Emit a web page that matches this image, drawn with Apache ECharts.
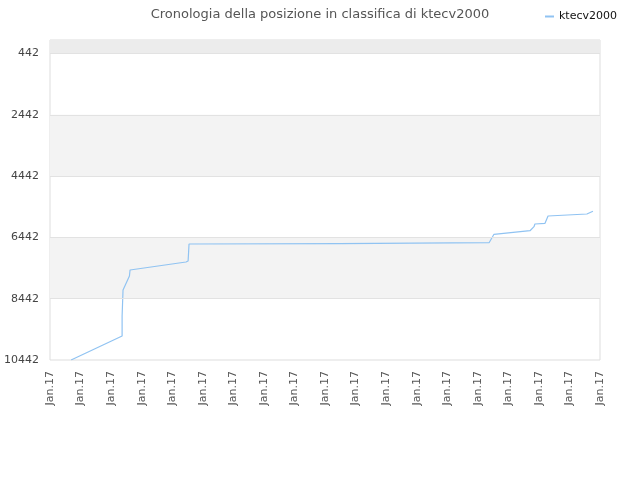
<!DOCTYPE html>
<html>
<head>
<meta charset="UTF-8">
<title>Cronologia della posizione in classifica</title>
<script src="https://cdn.jsdelivr.net/npm/echarts@6/dist/echarts.min.js"></script>
<style>
  html, body { margin: 0; padding: 0; background: #fff; }
  #chart { width: 640px; height: 480px; }
</style>
</head>
<body>
<div id="chart"></div>
<script>
// etichette dell'asse x (tutte nello stesso mese)
var xTickLabels = ['Jan.17','Jan.17','Jan.17','Jan.17','Jan.17','Jan.17','Jan.17','Jan.17','Jan.17','Jan.17',
                   'Jan.17','Jan.17','Jan.17','Jan.17','Jan.17','Jan.17','Jan.17','Jan.17','Jan.17'];
// etichette dell'asse y (posizione)
var yTickValues = [442, 2442, 4442, 6442, 8442, 10442];

// posizione sull'asse x (in unita di etichetta) e posizione in classifica
var timePos = [0.69, 2.36, 2.36, 2.39, 2.39, 2.60, 2.62, 4.45, 4.52, 4.55, 9.46, 9.46,
               14.37, 14.53, 15.71, 15.84, 15.87, 16.20, 16.30, 17.57, 17.77];
var rank    = [10442, 9659, 9006, 8941, 8158, 7701, 7505, 7244, 7212, 6657, 6647, 6614,
               6614, 6340, 6223, 6092, 6004, 5981, 5743, 5678, 5590];

var seriesData = timePos.map(function (x, i) { return [x, rank[i]]; });

// bande grigie alternate
var bands = [[0, 442, '#ececec'], [2442, 4442, '#f3f3f3'], [6442, 8442, '#f3f3f3']];

var chart = echarts.init(document.getElementById('chart'));

var option = {
    animation: false,
    textStyle: { fontFamily: 'DejaVu Sans' },
    title: {
        text: 'Cronologia della posizione in classifica di ktecv2000',
        left: 'center',
        top: 3,
        textStyle: { fontSize: 13, fontWeight: 'normal', color: '#555' }
    },
    legend: {
        right: 18,
        top: 6,
        icon: 'rect',
        itemWidth: 9,
        itemHeight: 2,
        itemGap: 6,
        textStyle: { fontSize: 11, color: '#111' },
        data: ['ktecv2000']
    },
    grid: {
        left: 50,
        right: 40,
        top: 40,
        bottom: 120,
        outerBoundsMode: 'none',
        containLabel: false,
        show: true,
        borderColor: '#dddddd',
        borderWidth: 1
    },
    xAxis: {
        type: 'value',
        min: 0,
        max: xTickLabels.length - 1,
        interval: 1,
        axisLine: { show: false },
        axisTick: { show: false },
        splitLine: { show: false },
        axisLabel: {
            rotate: 90,
            margin: 11,
            fontSize: 11,
            color: '#555',
            formatter: function (v) { return xTickLabels[v] || ''; }
        }
    },
    yAxis: {
        type: 'value',
        inverse: true,
        min: 0,
        max: 10442,
        axisLine: { show: false },
        axisTick: { show: false },
        splitLine: { show: false },
        axisLabel: {
            customValues: yTickValues,
            margin: 11,
            fontSize: 11,
            color: '#444',
            formatter: function (v) { return String(v); }
        }
    },
    series: [{
        name: 'ktecv2000',
        type: 'line',
        showSymbol: false,
        color: '#90c3f2',
        lineStyle: { width: 1.2, color: '#90c3f2' },
        data: seriesData,
        markArea: {
            silent: true,
            data: bands.map(function (b) {
                return [{ yAxis: b[0], itemStyle: { color: b[2] } }, { yAxis: b[1] }];
            })
        },
        markLine: {
            silent: true,
            symbol: 'none',
            label: { show: false },
            lineStyle: { color: '#e2e2e2', width: 1, type: 'solid' },
            data: yTickValues.slice(0, -1).map(function (v) { return { yAxis: v }; })
        }
    }]
};

chart.setOption(option);
</script>
</body>
</html>
